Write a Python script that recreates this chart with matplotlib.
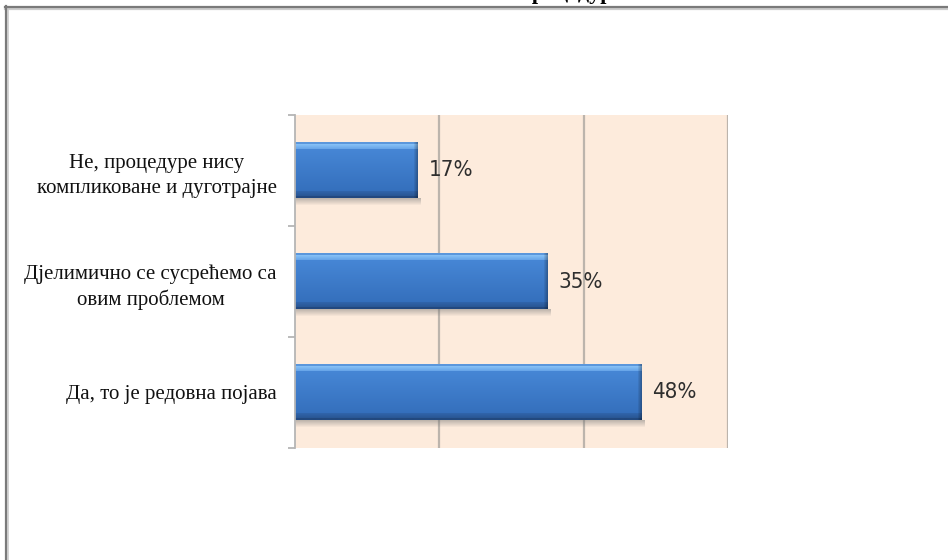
import numpy as np
import matplotlib
matplotlib.use("Agg")
import matplotlib.pyplot as plt
from matplotlib.lines import Line2D
from matplotlib.colors import to_rgb
from matplotlib import font_manager as fm

# Survey answers, top to bottom, with their shares in percent
categories = [
    "Не, процедуре нису\nкомпликоване и дуготрајне",
    "Дјелимично се сусрећемо са\nовим проблемом",
    "Да, то је редовна појава",
]
values = [17, 35, 48]
value_labels = ["17%", "35%", "48%"]
x_ticks = [0, 20, 40, 60]
title_text = "процедуре"


def narrow_font():
    """Pick a condensed sans face for the value labels if one is installed."""
    tries = [
        fm.FontProperties(family="Liberation Sans Narrow"),
        fm.FontProperties(family="DejaVu Sans", stretch="condensed"),
        fm.FontProperties(family="Open Sans", stretch="condensed"),
    ]
    for fp in tries:
        try:
            path = fm.findfont(fp, fallback_to_default=False)
        except Exception:
            continue
        name = path.lower()
        if "narrow" in name or "condensed" in name:
            return fm.FontProperties(fname=path)
    return fm.FontProperties(family="Liberation Sans")


W, H = 948, 560
fig = plt.figure(figsize=(W / 100, H / 100), dpi=100)
fig.patch.set_facecolor("white")

ax = fig.add_axes([295 / W, 1 - 448 / H, (728 - 295) / W, (448 - 115) / H])
ax.set_facecolor("#fdebdc")

y = np.arange(len(categories))
bar_h = 0.5
bars = ax.barh(y, values, height=bar_h, color="#3c7ac8", zorder=3, linewidth=0)

ax.set_xlim(x_ticks[0], x_ticks[-1])
ax.set_ylim(len(categories) - 0.5, -0.5)


def lerp(c1, c2, n):
    a, b = np.array(to_rgb(c1)), np.array(to_rgb(c2))
    t = np.linspace(0, 1, n)[:, None]
    return a * (1 - t) + b * t


# vertical profile of the bevelled bar face
profile = np.vstack([
    lerp("#5b97dc", "#5b97dc", 2),
    lerp("#86c0f6", "#6aa7ea", 5),
    lerp("#4686d5", "#3570bd", 42),
    lerp("#3064aa", "#2a5896", 5),
    lerp("#22497f", "#22497f", 2),
])

px_per_unit = ax.transData.transform((1, 0))[0] - ax.transData.transform((0, 0))[0]

for bar, v, yc in zip(bars, values, y):
    ncols = max(int(round(v * px_per_unit)), 4)
    img = np.repeat(profile[:, None, :], ncols, axis=1).copy()
    img[:, -4:, :] *= np.array([0.92, 0.85, 0.78, 0.72])[None, :, None]
    ax.imshow(img, extent=(0, v, yc + bar_h / 2, yc - bar_h / 2), origin="upper",
              aspect="auto", zorder=4, interpolation="bilinear")
    # soft drop shadow under the bar
    sh = np.zeros((8, 2, 4))
    sh[..., :3] = 0.45
    sh[..., 3] = np.linspace(0.45, 0.0, 8)[:, None]
    ax.imshow(sh, extent=(0.2, v + 0.5, yc + bar_h / 2 + 0.07, yc + bar_h / 2),
              origin="upper", aspect="auto", zorder=2, interpolation="bilinear")
    bar.set_visible(False)

vfont = narrow_font()
vfont.set_size(16)
for v, yc, lab in zip(values, y, value_labels):
    ax.annotate(lab, xy=(v, yc), xytext=(8, 0), textcoords="offset points",
                va="center", ha="left", color="#2e2e2e",
                fontproperties=vfont, zorder=6)

ax.set_xlim(x_ticks[0], x_ticks[-1])
ax.set_ylim(len(categories) - 0.5, -0.5)

# vertical gridlines
for xt in x_ticks[1:]:
    ax.axvline(xt, color="#bcb4ac", lw=1.6, zorder=1)

for side in ("top", "right", "bottom"):
    ax.spines[side].set_visible(False)
ax.spines["left"].set_color("#b5b5b5")
ax.spines["left"].set_linewidth(1.3)
ax.spines["left"].set_zorder(5)

ax.set_xticks([])
ax.set_yticks(y)
ax.set_yticklabels(categories, family="Liberation Serif", fontsize=15,
                   color="#111111", multialignment="center", linespacing=1.4)
ax.tick_params(axis="y", which="major", length=0, pad=13)
ax.set_yticks(np.arange(-0.5, len(categories)), minor=True)
ax.tick_params(axis="y", which="minor", length=5, width=1.3, color="#b5b5b5")

# title, mostly above the visible page area
fig.text(519 / W, 1 + 0.5 / H, title_text, family="Liberation Serif",
         fontweight="bold", fontsize=16, ha="left", va="baseline", color="black")

# page frame: top and left edges
def hline(ypx, color, lw):
    fig.add_artist(Line2D([5 / W, 1], [1 - ypx / H] * 2, transform=fig.transFigure,
                          color=color, lw=lw, zorder=10))

def vline(xpx, color, lw, y0px):
    fig.add_artist(Line2D([xpx / W] * 2, [0, 1 - y0px / H], transform=fig.transFigure,
                          color=color, lw=lw, zorder=10))

hline(9, "#cccccc", 1.6)
vline(7.5, "#cccccc", 1.2, 8)
hline(7, "#7a7a7a", 1.6)
vline(5.5, "#7a7a7a", 1.6, 6)

fig.savefig("out.png", dpi=100, facecolor=fig.get_facecolor())
